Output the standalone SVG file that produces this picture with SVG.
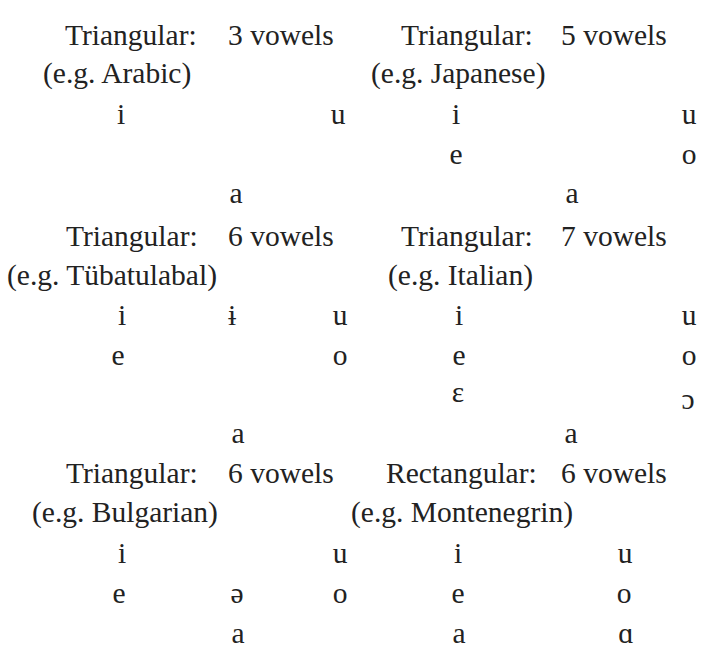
<svg xmlns="http://www.w3.org/2000/svg" width="702" height="658" viewBox="0 0 702 658">
<style>
text{font-family:"Liberation Serif",serif;font-size:29.5px;fill:#222}
.m{text-anchor:middle}
</style>
<rect x="0" y="0" width="702" height="658" fill="#ffffff"/>
<g id="tri3">
<text x="65" y="45">Triangular:</text>
<text x="228" y="45">3 vowels</text>
<text x="43" y="83">(e.g. Arabic)</text>
<text class="m" x="121" y="124">i</text>
<text class="m" x="338" y="124">u</text>
<text class="m" x="236" y="203">a</text>
</g>
<g id="tri5">
<text x="401" y="45">Triangular:</text>
<text x="561" y="45">5 vowels</text>
<text x="371" y="83">(e.g. Japanese)</text>
<text class="m" x="456" y="124">i</text>
<text class="m" x="689" y="124">u</text>
<text class="m" x="456" y="164">e</text>
<text class="m" x="689" y="164">o</text>
<text class="m" x="572" y="203">a</text>
</g>
<g id="tri6a">
<text x="66" y="246">Triangular:</text>
<text x="228" y="246">6 vowels</text>
<text x="7" y="285">(e.g. Tübatulabal)</text>
<text class="m" x="122" y="325">i</text>
<text class="m" x="232" y="325">ɨ</text>
<text class="m" x="340" y="325">u</text>
<text class="m" x="118" y="365">e</text>
<text class="m" x="340" y="365">o</text>
<text class="m" x="238" y="443">a</text>
</g>
<g id="tri7">
<text x="401" y="246">Triangular:</text>
<text x="561" y="246">7 vowels</text>
<text x="388" y="285">(e.g. Italian)</text>
<text class="m" x="459" y="325">i</text>
<text class="m" x="689" y="325">u</text>
<text class="m" x="459" y="365">e</text>
<text class="m" x="689" y="365">o</text>
<text class="m" x="458" y="402">ɛ</text>
<text class="m" x="688" y="409">ɔ</text>
<text class="m" x="571" y="443">a</text>
</g>
<g id="tri6b">
<text x="66" y="483">Triangular:</text>
<text x="228" y="483">6 vowels</text>
<text x="32" y="522">(e.g. Bulgarian)</text>
<text class="m" x="122" y="563">i</text>
<text class="m" x="340" y="563">u</text>
<text class="m" x="119" y="603">e</text>
<text class="m" x="237" y="603">ə</text>
<text class="m" x="340" y="603">o</text>
<text class="m" x="238" y="643">a</text>
</g>
<g id="rect6">
<text x="386" y="483">Rectangular:</text>
<text x="561" y="483">6 vowels</text>
<text x="351" y="522">(e.g. Montenegrin)</text>
<text class="m" x="458" y="563">i</text>
<text class="m" x="625" y="563">u</text>
<text class="m" x="458" y="603">e</text>
<text class="m" x="624" y="603">o</text>
<text class="m" x="459" y="643">a</text>
<text class="m" x="626" y="643">ɑ</text>
</g>
</svg>
